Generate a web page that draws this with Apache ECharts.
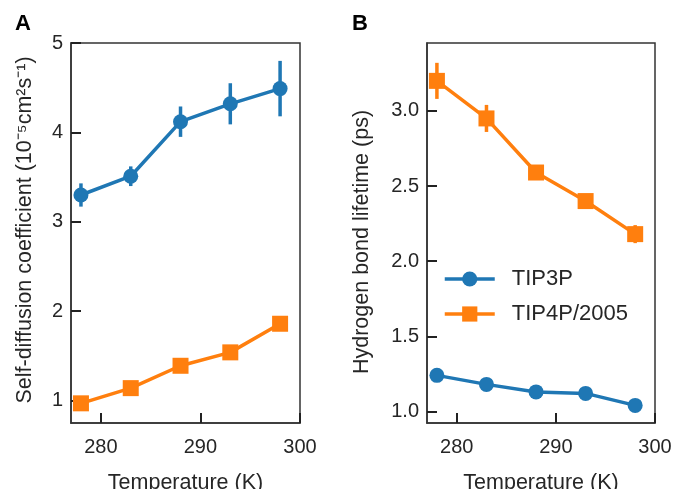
<!DOCTYPE html>
<html>
<head>
<meta charset="utf-8">
<script src="https://cdn.jsdelivr.net/npm/echarts@6/dist/echarts.min.js"></script>
<style>
  html, body { margin: 0; padding: 0; background: #fff; }
  #main { width: 676px; height: 489px; }
</style>
</head>
<body>
<div id="main"></div>
<script>
// temperatures (K)
var temps = [278, 283, 288, 293, 298]
var xTicks = [280, 290, 300]

// panel A: self-diffusion coefficient
var diffTip3p = [3.30, 3.51, 4.12, 4.32, 4.49]
var diffTip3pErr = [0.13, 0.11, 0.17, 0.23, 0.31]
var diffTip4p = [0.97, 1.14, 1.39, 1.54, 1.86]
var diffTip4pErr = [0.04, 0.04, 0.04, 0.04, 0.05]
var diffTicks = [1, 2, 3, 4, 5]

// panel B: hydrogen bond lifetime
var hbTip3p = [1.24, 1.18, 1.13, 1.12, 1.04]
var hbTip3pErr = [0.02, 0.02, 0.02, 0.02, 0.02]
var hbTip4p = [3.20, 2.95, 2.59, 2.40, 2.18]
var hbTip4pErr = [0.12, 0.09, 0.04, 0.04, 0.06]
var hbTicks = [1.0, 1.5, 2.0, 2.5, 3.0]

var blue = '#1f77b4'
var orange = '#ff7f0e'
var txt = '#262626'
var font = 'Liberation Sans, Arial, Helvetica, sans-serif'

function pts(vals) {
  return temps.map(function (t, i) { return [t, vals[i]] })
}
function errPts(vals, errs) {
  return temps.map(function (t, i) { return [t, vals[i] - errs[i], vals[i] + errs[i]] })
}

// vertical error bars, no caps
function errSeries(idx, vals, errs, color) {
  return {
    type: 'custom',
    xAxisIndex: idx,
    yAxisIndex: idx,
    silent: true,
    z: 1,
    data: errPts(vals, errs),
    renderItem: function (params, api) {
      var p1 = api.coord([api.value(0), api.value(1)])
      var p2 = api.coord([api.value(0), api.value(2)])
      return {
        type: 'line',
        shape: { x1: p1[0], y1: p1[1], x2: p2[0], y2: p2[1] },
        style: { stroke: color, lineWidth: 3.5 }
      }
    }
  }
}

function lineSeries(idx, name, vals, color, symbol, size) {
  return {
    name: name,
    type: 'line',
    xAxisIndex: idx,
    yAxisIndex: idx,
    data: pts(vals),
    symbol: symbol,
    symbolSize: size,
    z: 3,
    lineStyle: { color: color, width: 3.5 },
    itemStyle: { color: color, opacity: 1 },
    emphasis: { disabled: true }
  }
}

function xAxisOf(idx) {
  return {
    type: 'value',
    gridIndex: idx,
    min: 277,
    max: 300,
    name: 'Temperature (K)',
    nameLocation: 'middle',
    nameGap: 49,
    nameTextStyle: { color: txt, fontSize: 21.5, fontFamily: font },
    axisLine: { lineStyle: { color: '#333', width: 1.5 } },
    axisTick: { inside: true, length: 10, lineStyle: { color: '#222', width: 2 }, customValues: xTicks },
    axisLabel: { color: txt, fontSize: 20, fontFamily: font, margin: 14, customValues: xTicks },
    splitLine: { show: false }
  }
}

function yAxisOf(idx, min, max, ticks, name, gap, fmt, namePad) {
  return {
    type: 'value',
    gridIndex: idx,
    min: min,
    max: max,
    name: name,
    nameLocation: 'middle',
    nameRotate: 90,
    nameGap: gap,
    nameTextStyle: { color: txt, fontSize: 21.5, fontFamily: font, padding: namePad },
    axisLine: { show: true, lineStyle: { color: '#333', width: 1.5 } },
    axisTick: { show: true, inside: true, length: 10, lineStyle: { color: '#222', width: 2 }, customValues: ticks },
    axisLabel: { color: txt, fontSize: 20, fontFamily: font, margin: 8, customValues: ticks, formatter: fmt },
    splitLine: { show: false }
  }
}

var myChart = echarts.init(document.getElementById('main'), null, { renderer: 'canvas' })

var option = {
  animation: false,
  backgroundColor: '#fff',
  textStyle: { fontFamily: font },
  grid: [
    { left: 71, right: 376, top: 43, bottom: 66, outerBoundsMode: 'none', show: true, borderColor: '#333', borderWidth: 1.5 },
    { left: 427, right: 21, top: 43, bottom: 66, outerBoundsMode: 'none', show: true, borderColor: '#333', borderWidth: 1.5 }
  ],
  xAxis: [xAxisOf(0), xAxisOf(1)],
  yAxis: [
    yAxisOf(0, 0.75, 5, diffTicks, 'Self-diffusion coefficient (10⁻⁵cm²s⁻¹)', 35, function (v) { return String(v) }, [0, 0, 0, 6]),
    yAxisOf(1, 0.923, 3.452, hbTicks, 'Hydrogen bond lifetime (ps)', 54, function (v) { return v.toFixed(1) }, [0, 18, 0, 0])
  ],
  legend: {
    data: ['TIP3P', 'TIP4P/2005'],
    left: 438,
    top: 263,
    orient: 'vertical',
    itemWidth: 50,
    itemHeight: 19,
    itemGap: 13,
    lineStyle: { width: 3.5 },
    textStyle: { color: txt, fontSize: 22, fontFamily: font, padding: [0, 0, 0, 12] }
  },
  graphic: [
    { type: 'text', left: 15, top: 13, style: { text: 'A', font: 'bold 22px ' + font, fill: '#000' } },
    { type: 'text', left: 352, top: 13, style: { text: 'B', font: 'bold 22px ' + font, fill: '#000' } }
  ],
  series: [
    errSeries(0, diffTip3p, diffTip3pErr, blue),
    errSeries(0, diffTip4p, diffTip4pErr, orange),
    errSeries(1, hbTip3p, hbTip3pErr, blue),
    errSeries(1, hbTip4p, hbTip4pErr, orange),
    lineSeries(0, 'TIP3P', diffTip3p, blue, 'circle', 15),
    lineSeries(0, 'TIP4P/2005', diffTip4p, orange, 'rect', 16),
    lineSeries(1, 'TIP3P', hbTip3p, blue, 'circle', 15),
    lineSeries(1, 'TIP4P/2005', hbTip4p, orange, 'rect', 16)
  ]
}

myChart.setOption(option)
</script>
</body>
</html>
